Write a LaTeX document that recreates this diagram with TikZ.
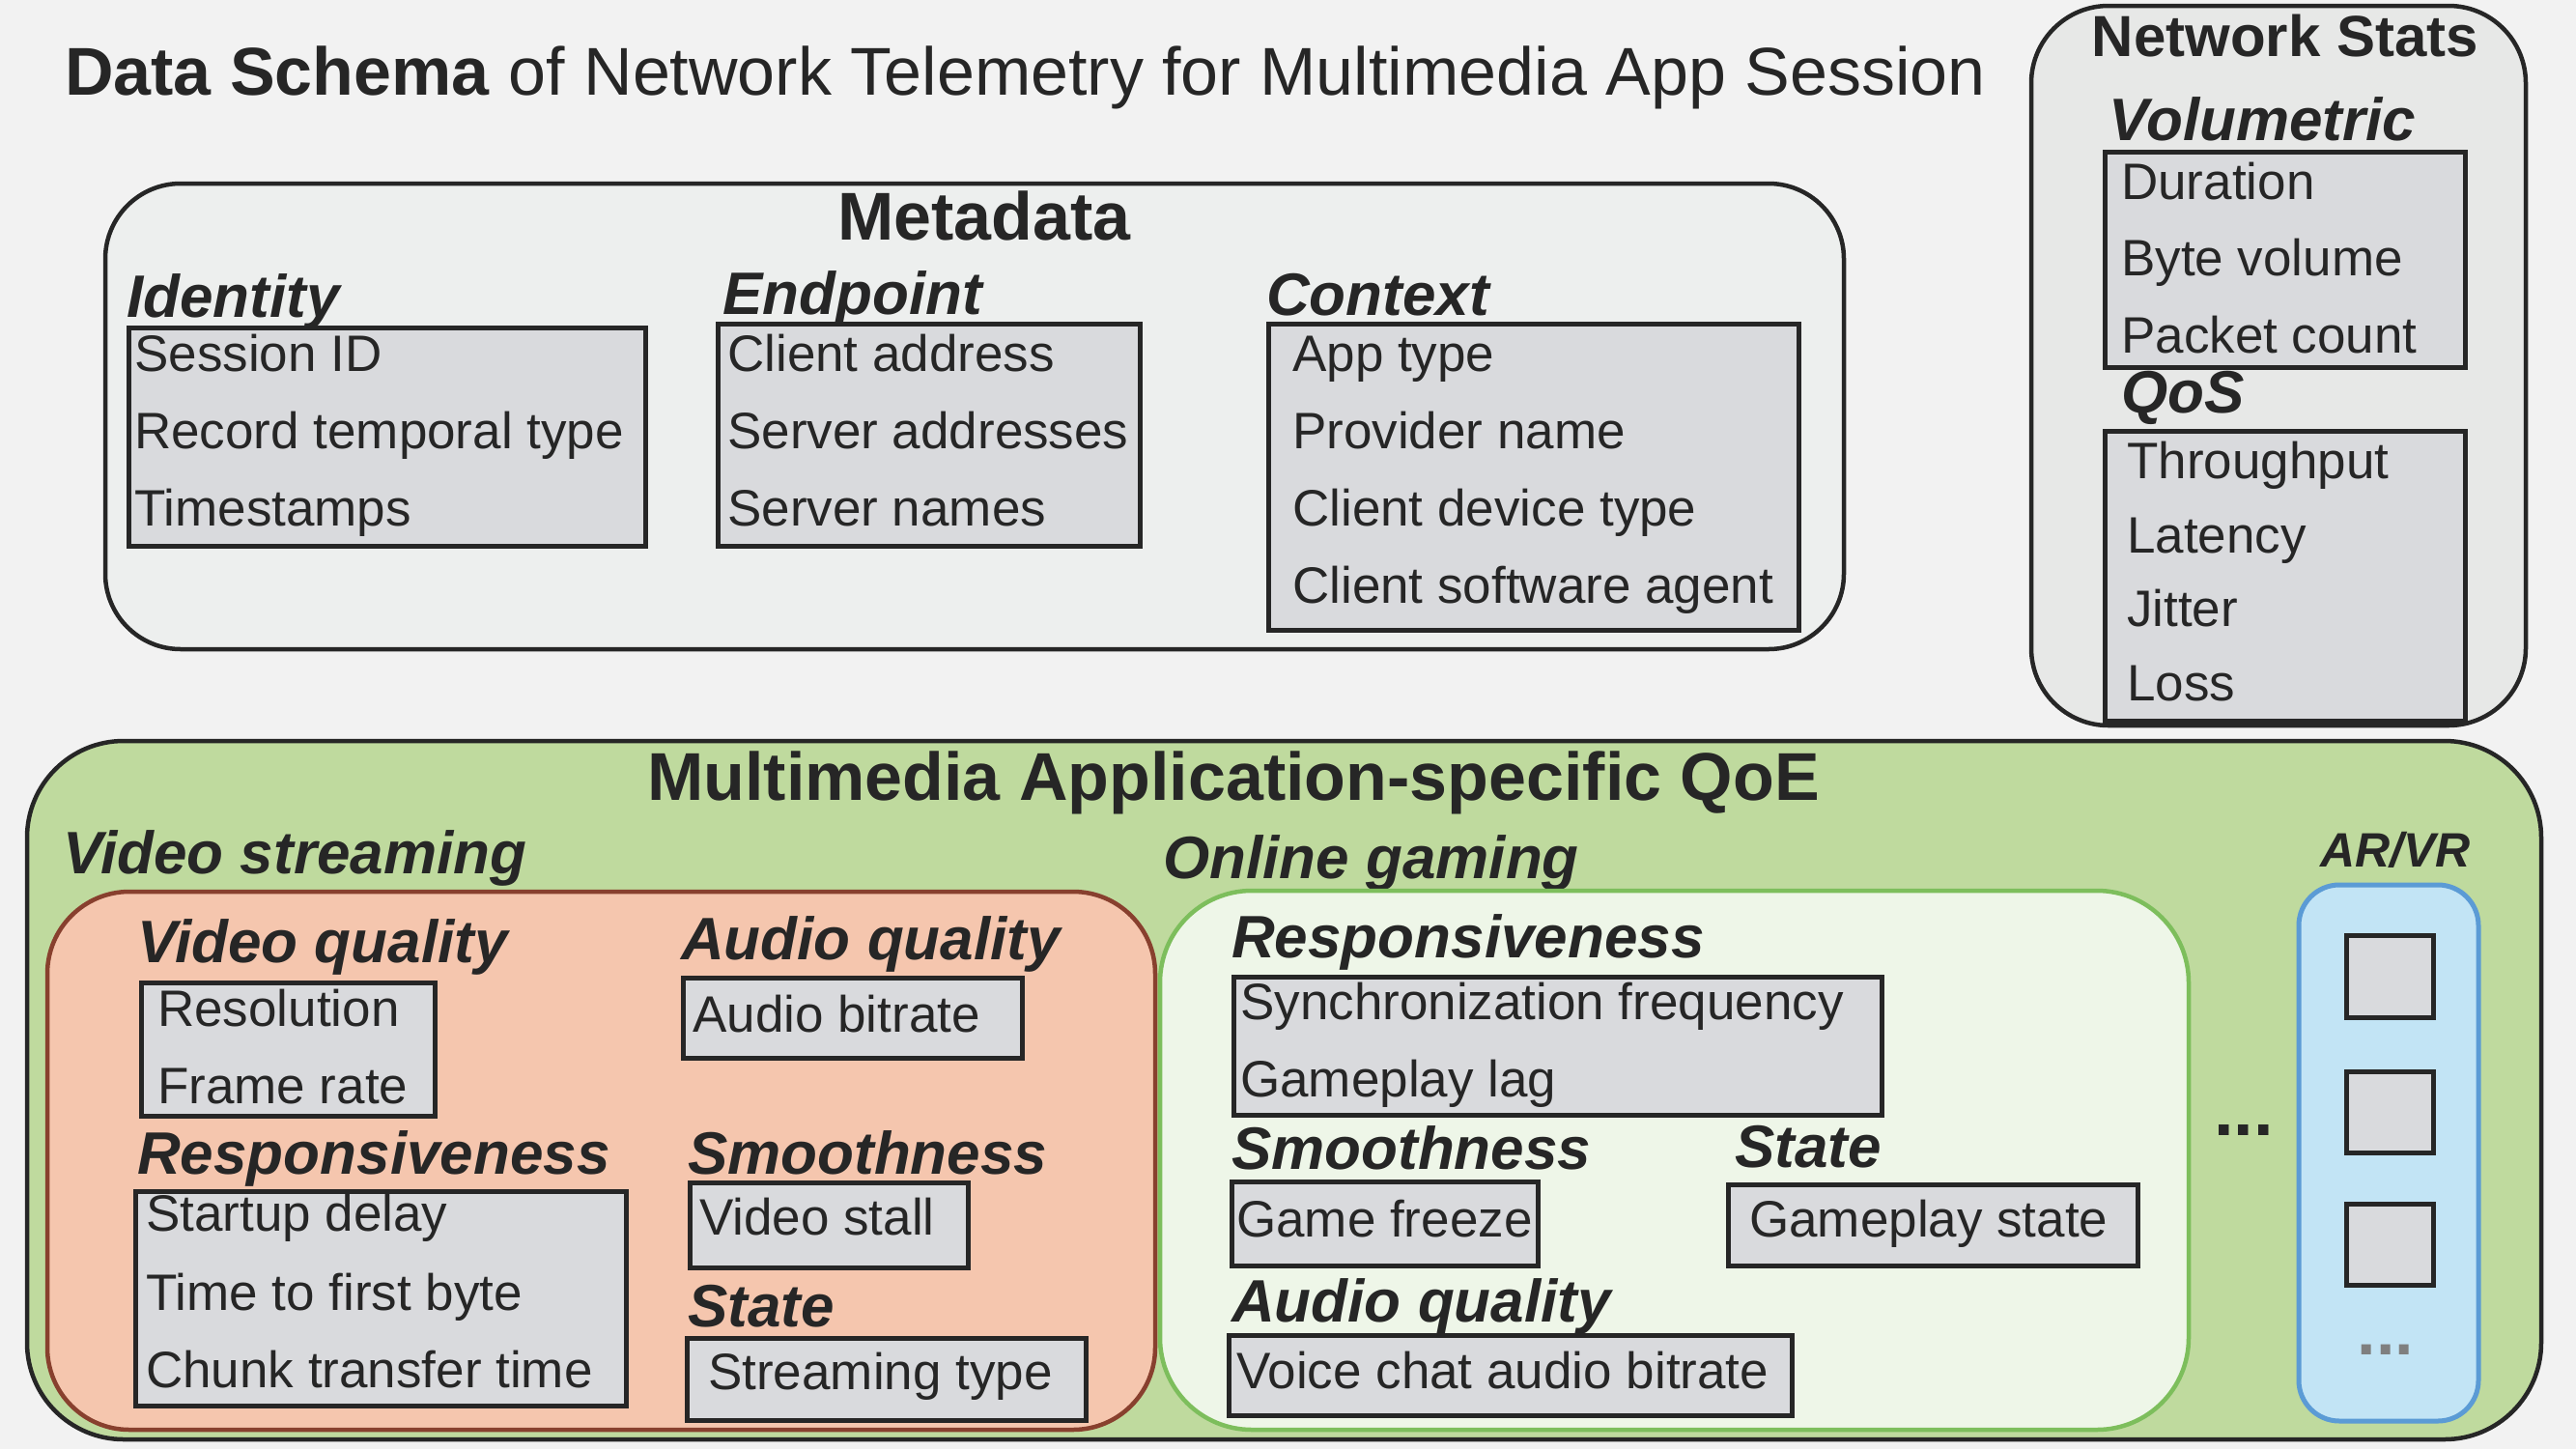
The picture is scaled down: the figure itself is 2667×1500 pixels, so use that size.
\documentclass[tikz,border=0pt]{standalone}
\usepackage{fontspec}
\setmainfont{Liberation Sans}
\definecolor{bg}{HTML}{F2F2F2}
\definecolor{dark}{HTML}{262626}
\definecolor{metafill}{HTML}{EDEFEE}
\definecolor{statfill}{HTML}{E7E8E7}
\definecolor{itemgray}{HTML}{D9DADD}
\definecolor{qoefill}{HTML}{BFDA9E}
\definecolor{salmon}{HTML}{F5C6AE}
\definecolor{brownline}{HTML}{88402E}
\definecolor{gamefill}{HTML}{EEF6E8}
\definecolor{gameline}{HTML}{7DBE5C}
\definecolor{arfill}{HTML}{C2E4F5}
\definecolor{arline}{HTML}{5B9BD5}
\definecolor{dotgray}{HTML}{7F7F7F}
\tikzset{
  ibox/.style={draw=dark, fill=itemgray, line width=4.5pt, inner sep=0pt, anchor=north west},
  itm/.style={font=\fontsize{53}{60}\selectfont, inner sep=0pt, anchor=base west, text=dark},
  hd/.style={font=\fontsize{62}{70}\selectfont\bfseries\itshape, inner sep=0pt, anchor=base west, text=dark},
  bigt/.style={font=\fontsize{70}{80}\selectfont\bfseries, inner sep=0pt, anchor=base, text=dark},
}
\begin{document}
\begin{tikzpicture}[x=1pt,y=-1pt]
\useasboundingbox (0,0) rectangle (2667,1500);
\fill[bg] (0,0) rectangle (2667,1500);

% Title
\node[font=\fontsize{70}{80}\selectfont, inner sep=0pt, anchor=base west, text=dark] (title) at (67,98)
  {\textbf{Data Schema} of Network Telemetry for Multimedia App Session};

% Metadata container
\draw[draw=dark, fill=metafill, line width=4.5pt, rounded corners=78pt] (109,190) rectangle (1909,672);
\node[bigt] (meta) at (1019,248) {Metadata};

\node[hd] (hid) at (131,328) {Identity};
\node[ibox, minimum width=535pt, minimum height=226pt] (bid) at (131,337) {};
\node[itm] (id1) at (139,384) {Session ID};
\node[itm] (id2) at (139,464) {Record temporal type};
\node[itm] (id3) at (139,544) {Timestamps};

\node[hd] (hep) at (748,325) {Endpoint};
\node[ibox, minimum width=437pt, minimum height=230pt] (bep) at (741,333) {};
\node[itm] (ep1) at (753,384) {Client address};
\node[itm] (ep2) at (753,464) {Server addresses};
\node[itm] (ep3) at (753,544) {Server names};

\node[hd] (hct) at (1311,326) {Context};
\node[ibox, minimum width=549pt, minimum height=317pt] (bct) at (1311,333) {};
\node[itm] (ct1) at (1338,384) {App type};
\node[itm] (ct2) at (1338,464) {Provider name};
\node[itm] (ct3) at (1338,544) {Client device type};
\node[itm] (ct4) at (1338,624) {Client software agent};

% Network stats
\draw[draw=dark, fill=statfill, line width=4.5pt, rounded corners=80pt] (2103,6) rectangle (2615,751);
\node[font=\fontsize{60}{70}\selectfont\bfseries, inner sep=0pt, anchor=base, text=dark] (nst) at (2366,58) {Network Stats};
\node[hd] (hvol) at (2183,145) {Volumetric};
\node[ibox, minimum width=373pt, minimum height=223pt] (bvol) at (2177,155) {};
\node[itm] (v1) at (2196,206) {Duration};
\node[itm] (v2) at (2196,285) {Byte volume};
\node[itm] (v3) at (2196,365) {Packet count};
\node[hd] (hqos) at (2196,427) {QoS};
\node[ibox, minimum width=373pt, minimum height=300pt] (bqos) at (2177,444) {};
\node[itm] (q1) at (2202,495) {Throughput};
\node[itm] (q2) at (2202,572) {Latency};
\node[itm] (q3) at (2202,648) {Jitter};
\node[itm] (q4) at (2202,725) {Loss};

% QoE container
\draw[draw=dark, fill=qoefill, line width=4.5pt, rounded corners=100pt] (28,767) rectangle (2631,1490);
\node[bigt] (qoe) at (1277,828) {Multimedia Application-specific QoE};

% Video streaming
\node[hd] (hvs) at (65,904) {Video streaming};
\draw[draw=brownline, fill=salmon, line width=4.5pt, rounded corners=85pt] (49,923) rectangle (1196,1480);

\node[hd] (hvq) at (142,996) {Video quality};
\node[ibox, minimum width=304pt, minimum height=138pt] (bvq) at (144,1015) {};
\node[itm] (vq1) at (163,1062) {Resolution};
\node[itm] (vq2) at (163,1142) {Frame rate};

\node[hd] (haq) at (705,993) {Audio quality};
\node[ibox, minimum width=351pt, minimum height=83pt] (baq) at (705,1010) {};
\node[itm] (aq1) at (717,1068) {Audio bitrate};

\node[hd] (hvr) at (142,1215) {Responsiveness};
\node[ibox, minimum width=508pt, minimum height=222pt] (bvr) at (138,1231) {};
\node[itm] (vr1) at (151,1274) {Startup delay};
\node[itm] (vr2) at (151,1356) {Time to first byte};
\node[itm] (vr3) at (151,1436) {Chunk transfer time};

\node[hd] (hvsm) at (712,1215) {Smoothness};
\node[ibox, minimum width=288pt, minimum height=88pt] (bvsm) at (712,1222) {};
\node[itm] (vsm1) at (724,1278) {Video stall};

\node[hd] (hvst) at (712,1373) {State};
\node[ibox, minimum width=413pt, minimum height=85pt] (bvst) at (709,1383) {};
\node[itm] (vst1) at (733,1438) {Streaming type};

% Online gaming
\node[hd] (hog) at (1204,909) {Online gaming};
\draw[draw=gameline, fill=gamefill, line width=4.5pt, rounded corners=95pt] (1201,922) rectangle (2266,1480);

\node[hd] (hgr) at (1275,991) {Responsiveness};
\node[ibox, minimum width=671pt, minimum height=143pt] (bgr) at (1275,1009) {};
\node[itm] (gr1) at (1284,1055) {Synchronization frequency};
\node[itm] (gr2) at (1284,1135) {Gameplay lag};

\node[hd] (hgsm) at (1275,1210) {Smoothness};
\node[ibox, minimum width=317pt, minimum height=87pt] (bgsm) at (1273,1221) {};
\node[itm] (gsm1) at (1280,1280) {Game freeze};

\node[hd] (hgst) at (1796,1208) {State};
\node[ibox, minimum width=424pt, minimum height=84pt] (bgst) at (1787,1224) {};
\node[itm] (gst1) at (1811,1280) {Gameplay state};

\node[hd] (hgaq) at (1275,1368) {Audio quality};
\node[ibox, minimum width=583pt, minimum height=83pt] (bgaq) at (1270,1380) {};
\node[itm] (gaq1) at (1280,1437) {Voice chat audio bitrate};

% dots
\node[font=\fontsize{74}{80}\selectfont\bfseries, inner sep=0pt, anchor=base, text=dark] (dots1) at (2323,1175) {...};

% AR/VR
\node[font=\fontsize{50}{56}\selectfont\bfseries\itshape, inner sep=0pt, anchor=base, text=dark] (har) at (2480,897) {AR/VR};
\draw[draw=arline, fill=arfill, line width=5pt, rounded corners=42pt] (2380,916) rectangle (2566,1471);
\node[ibox, minimum width=90pt, minimum height=85pt] (ar1) at (2427,966) {};
\node[ibox, minimum width=90pt, minimum height=84pt] (ar2) at (2427,1107) {};
\node[ibox, minimum width=90pt, minimum height=84pt] (ar3) at (2427,1244) {};
\node[font=\fontsize{70}{80}\selectfont\bfseries, inner sep=0pt, anchor=base, text=dotgray] (dots2) at (2470,1402) {...};
\end{tikzpicture}
\end{document}
